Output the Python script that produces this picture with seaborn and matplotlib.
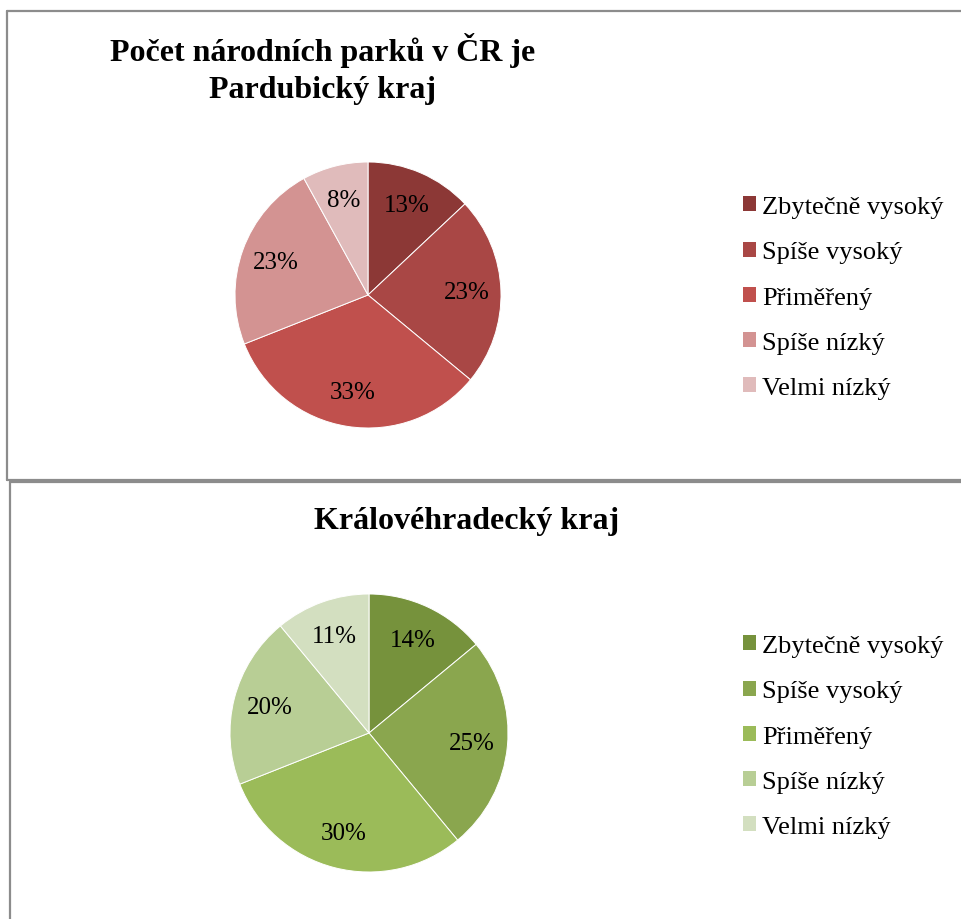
import matplotlib
matplotlib.use("Agg")
import matplotlib.pyplot as plt
from matplotlib.lines import Line2D
from matplotlib.patches import Patch
import seaborn as sns

# Data ---------------
categories = ["Zbytečně vysoký", "Spíše vysoký", "Přiměřený", "Spíše nízký", "Velmi nízký"]
pardubice_vals = [13, 23, 33, 23, 8]
hradec_vals = [14, 25, 30, 20, 11]
pardubice_title = "Počet národních parků v ČR je\nPardubický kraj"
hradec_title = "Královéhradecký kraj"
reds = ["#8C3836", "#A94745", "#C0504D", "#D39392", "#E0BBBB"]
greens = ["#76923C", "#8AA64E", "#9BBB59", "#B8CE95", "#D3DFC0"]

sns.set_theme(style="white")
plt.rcParams["font.family"] = ["Liberation Serif", "DejaVu Serif"]
plt.rcParams["text.color"] = "black"

W, H = 962, 920
fig = plt.figure(figsize=(W / 100, H / 100), dpi=100)
fig.patch.set_facecolor("white")


def px(x, y):
    # pixel (from top-left) -> figure fraction
    return x / W, 1 - y / H


def frame_line(x0, y0, x1, y1):
    a, b = px(x0, y0)
    c, d = px(x1, y1)
    fig.add_artist(Line2D([a, c], [b, d], transform=fig.transFigure,
                          color="#8c8c8c", lw=1.6))


# panel borders
frame_line(7, 12, W, 12)
frame_line(7, 12, 7, 481)
frame_line(7, 481, W, 481)
frame_line(10, 482.5, W, 482.5)
frame_line(10, 482.5, 10, H)


def pie_panel(vals, colors, cx, cy, r, title, tx, ty, leg_top):
    left, top = px(cx - r, cy - r)
    ax = fig.add_axes([left, top - 2 * r / H, 2 * r / W, 2 * r / H])
    ax.pie(vals, colors=colors, startangle=90, counterclock=False,
           labels=None, autopct=lambda p: f"{p:.0f}%", pctdistance=0.74,
           wedgeprops=dict(edgecolor="white", linewidth=0.7),
           textprops=dict(fontsize=18, color="black"))
    ax.set_xlim(-1, 1)
    ax.set_ylim(-1, 1)
    ax.axis("off")
    fx, fy = px(tx, ty)
    fig.text(fx, fy, title, ha="center", va="center", fontsize=23,
             fontweight="bold", linespacing=1.32, color="black")
    handles = [Patch(facecolor=c, edgecolor="none") for c in colors]
    lx, ly = px(730, leg_top)
    leg = fig.legend(handles, categories, loc="upper left", bbox_to_anchor=(lx, ly),
                     bbox_transform=fig.transFigure, frameon=False, fontsize=19,
                     borderpad=0, handlelength=0.5, handleheight=0.5,
                     handletextpad=0.22, labelspacing=0.88)
    for t in leg.get_texts():
        t.set_color("black")


pie_panel(pardubice_vals, reds, 368, 296, 133, pardubice_title, 323, 69, 184)
pie_panel(hradec_vals, greens, 369, 734, 139, hradec_title, 467, 522, 623)

fig.savefig("out.png", dpi=100, facecolor="white")
